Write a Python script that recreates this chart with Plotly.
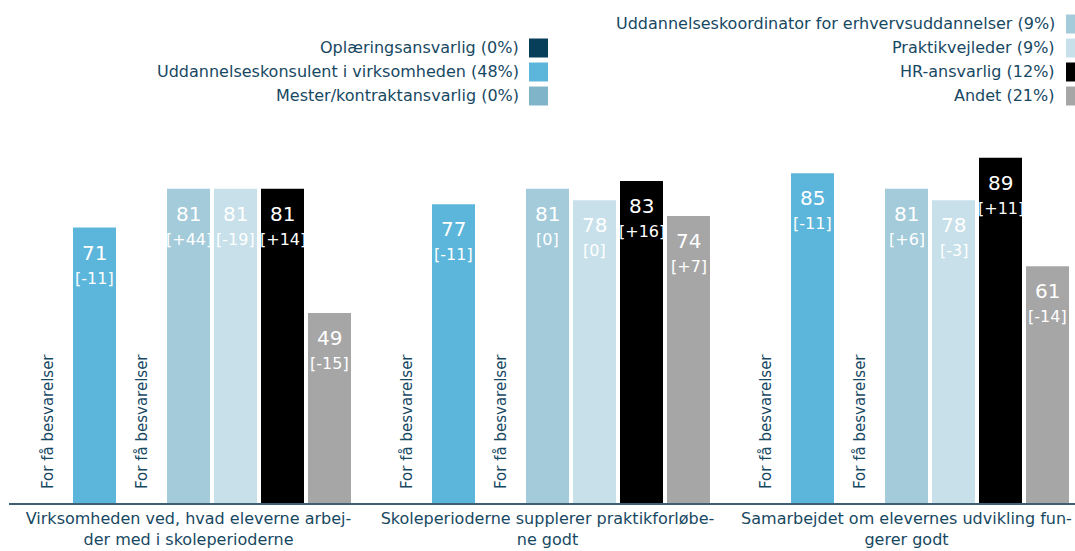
import plotly.graph_objects as go

# ---------------- data ----------------
categories = ["Virksomheden ved, hvad eleverne arbejder med i skoleperioderne",
              "Skoleperioderne supplerer praktikforløbene godt",
              "Samarbejdet om elevernes udvikling fungerer godt"]
tick_labels = ["Virksomheden ved, hvad eleverne arbej-<br>der med i skoleperioderne",
               "Skoleperioderne supplerer praktikforløbe-<br>ne godt",
               "Samarbejdet om elevernes udvikling fun-<br>gerer godt"]

series_names = ["Oplæringsansvarlig (0%)",
                "Uddannelseskonsulent i virksomheden (48%)",
                "Mester/kontraktansvarlig (0%)",
                "Uddannelseskoordinator for erhvervsuddannelser (9%)",
                "Praktikvejleder (9%)",
                "HR-ansvarlig (12%)",
                "Andet (21%)"]
series_colors = ["#073f5a", "#5cb5da", "#7fb4c9", "#a4cbda", "#c8e0ea", "#000000", "#a6a6a6"]

oplaering = [None, None, None]
konsulent = [71, 77, 85]
mester = [None, None, None]
koordinator = [81, 81, 81]
praktikvejleder = [81, 78, 78]
hr = [81, 83, 89]
andet = [49, 74, 61]

konsulent_diff = ["-11", "-11", "-11"]
koordinator_diff = ["+44", "0", "+6"]
praktikvejleder_diff = ["-19", "0", "-3"]
hr_diff = ["+14", "+16", "+11"]
andet_diff = ["-15", "+7", "-14"]

values = [oplaering, konsulent, mester, koordinator, praktikvejleder, hr, andet]
diffs = [None, konsulent_diff, None, koordinator_diff, praktikvejleder_diff, hr_diff, andet_diff]
few_text = "For få besvarelser"

# ---------------- layout constants ----------------
W, H = 1075, 551
ML, MR, MT, MB = 9, 0, 115, 48
PW, PH = W - ML - MR, H - MT - MB
CAT_PX = 359.0
SLOT_PX = 47.0
FONT = "DejaVu Sans"
TXT = "#174862"

def px_x(x):
    return (x - ML) / PW

def px_y(y):
    return (H - MB - y) / PH

fig = go.Figure()
for name, col, vals in zip(series_names, series_colors, values):
    fig.add_trace(go.Bar(x=categories, y=vals, name=name, marker_color=col,
                         marker_line_width=0, showlegend=False))

annotations = []
n = len(series_names)
for si, (vals, dv) in enumerate(zip(values, diffs)):
    xs = (si - (n - 1) / 2) * SLOT_PX
    for ci, cat in enumerate(categories):
        v = vals[ci]
        if v is None:
            annotations.append(dict(x=cat, y=0, xref="x", yref="y", text=few_text,
                                    textangle=-90, showarrow=False, xshift=xs, yshift=12,
                                    yanchor="bottom", xanchor="center",
                                    font=dict(family=FONT, size=15, color=TXT)))
        else:
            annotations.append(dict(x=cat, y=v, xref="x", yref="y", text=str(v),
                                    showarrow=False, xshift=xs, yshift=-25,
                                    yanchor="middle", xanchor="center",
                                    font=dict(family=FONT, size=20, color="white")))
            annotations.append(dict(x=cat, y=v, xref="x", yref="y", text="[" + dv[ci] + "]",
                                    showarrow=False, xshift=xs, yshift=-50.5,
                                    yanchor="middle", xanchor="center",
                                    font=dict(family=FONT, size=16, color="white")))

# manual legend (text right-aligned, swatch to the right)
legend_cols = [
    dict(text_right=521, sq_left=529, items=[0, 1, 2], rows=[48, 72, 96]),
    dict(text_right=1057, sq_left=1066, items=[3, 4, 5, 6], rows=[24, 48, 72, 96]),
]
shapes = []
SQ = 19
for lc in legend_cols:
    for idx, yc in zip(lc["items"], lc["rows"]):
        annotations.append(dict(x=px_x(lc["text_right"]), y=px_y(yc), xref="paper", yref="paper",
                                text=series_names[idx], showarrow=False, xanchor="right",
                                yanchor="middle",
                                font=dict(family=FONT, size=16, color=TXT)))
        shapes.append(dict(type="rect", xref="paper", yref="paper",
                           x0=px_x(lc["sq_left"]), x1=px_x(lc["sq_left"] + SQ),
                           y0=px_y(yc + SQ / 2), y1=px_y(yc - SQ / 2),
                           fillcolor=series_colors[idx], line=dict(width=0)))

fig.update_layout(
    width=W, height=H,
    margin=dict(l=ML, r=MR, t=MT, b=MB, pad=0, autoexpand=False),
    paper_bgcolor="white", plot_bgcolor="white",
    barmode="group", bargap=30 / CAT_PX, bargroupgap=4 / SLOT_PX,
    font=dict(family=FONT, size=16, color=TXT),
    annotations=annotations, shapes=shapes,
    showlegend=False,
    xaxis=dict(type="category", range=[-0.5, -0.5 + PW / CAT_PX], automargin=False,
               tickvals=categories, ticktext=tick_labels,
               showgrid=False, zeroline=False, showline=True, linecolor="#3f5f75",
               linewidth=1.5, ticks="", tickfont=dict(family=FONT, size=16, color=TXT)),
    yaxis=dict(range=[0, 100], visible=False, showgrid=False, zeroline=False,
               automargin=False),
)

# remove the default page margin so the figure fills the window exactly
fig.write_html("out.html",
               config={"displayModeBar": False},
               post_script="document.body.style.margin='0';document.body.style.overflow='hidden';")
